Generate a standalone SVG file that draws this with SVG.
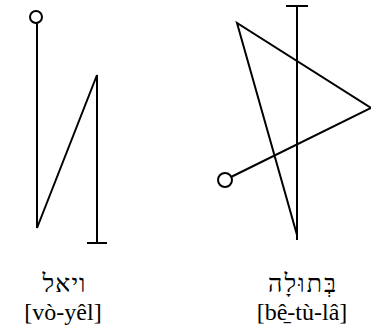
<svg xmlns="http://www.w3.org/2000/svg" width="371" height="329" viewBox="0 0 371 329">
<style>
.ln{fill:none;stroke:#000;stroke-width:2;stroke-linejoin:miter;stroke-linecap:butt}
.dot{fill:#fff;stroke:#000;stroke-width:2}
.heb{font-family:"Liberation Serif","DejaVu Serif",serif;font-size:25px;fill:#000;text-anchor:middle}
.lat{font-family:"Liberation Serif","DejaVu Serif",serif;font-size:24px;fill:#000;text-anchor:middle}
</style>
<rect width="371" height="329" fill="#fff"/>
<g id="connectors">
<polyline class="ln" points="37,23 37,228 97,75 97,243"/>
<line class="ln" x1="87" y1="243" x2="107" y2="243"/>
<line class="ln" x1="286" y1="6" x2="308" y2="6"/>
<line class="ln" x1="297" y1="6" x2="297" y2="240"/>
<polyline class="ln" points="297,235 237,23 371,108 231,177"/>
</g>
<g id="node-voyel">
<circle class="dot" cx="36" cy="17" r="6"/>
<text class="heb" x="64" y="292" textLength="43" lengthAdjust="spacing">ויאל</text>
<text class="lat" x="63" y="320">[vò-yêl]</text>
</g>
<g id="node-betula">
<circle class="dot" cx="225" cy="180" r="7"/>
<text class="heb" x="302" y="292" textLength="68" lengthAdjust="spacing">בְּתוּלָה</text>
<text class="lat" x="302" y="320">[bê̱-tù-lâ]</text>
</g>
</svg>
